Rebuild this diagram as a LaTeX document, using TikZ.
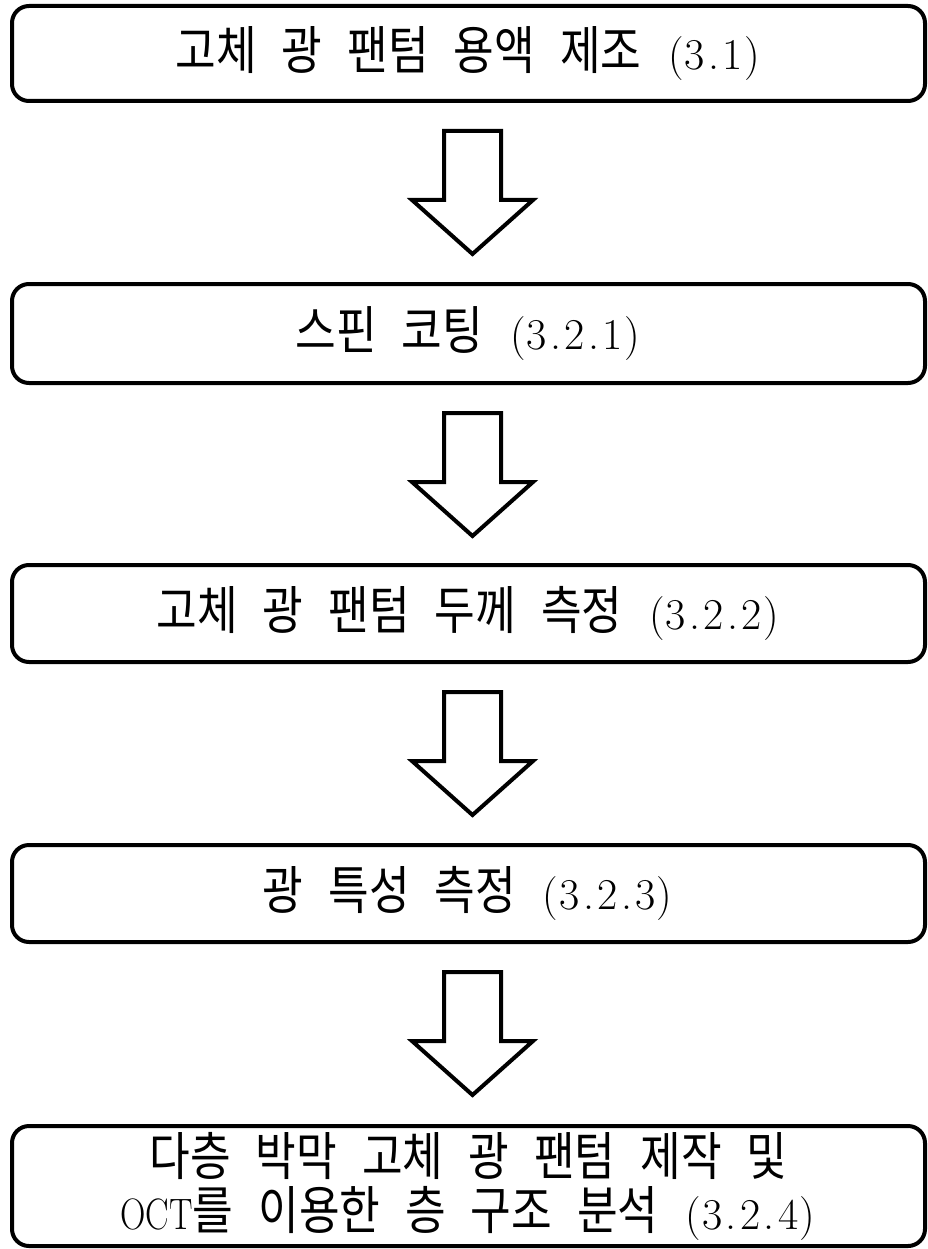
\documentclass[tikz,border=0pt]{standalone}
\usepackage{fontspec}
\usetikzlibrary{calc}
\newfontfamily\kr[FakeStretch=0.85]{Noto Sans CJK KR}
% section numbers: every character in a cell of equal width
\def\monocells#1{\monocell#1\relax}
\def\monocell#1{\ifx#1\relax\else\makebox[19pt]{#1}\expandafter\monocell\fi}
\newcommand\secno[1]{\monocells{(#1)}}
\newcommand\stagefont{\fontsize{44}{54}\selectfont\spaceskip 25pt\relax}
\tikzset{
  stage/.style={draw=black, line width=4pt, rounded corners=17pt, fill=white,
    minimum width=913pt, inner sep=0pt, align=center, font=\stagefont},
  blockarrow/.style={draw=black, line width=4pt, line join=miter, fill=white}
}
\newcommand\hg[1]{{\kr\fontsize{52}{54}\selectfont\spaceskip 25pt\relax #1}}
% hollow downward block arrow hanging below a stage
\newcommand\flowarrow[2]{%
  \draw[blockarrow] ($(#1.south)+(4,28)$) coordinate (#2)
    ++(-28.5,0) -- ++(57,0) -- ++(0,69) -- ++(32,0)
    -- ($(#2)+(0,123)$) -- ($(#2)+(-60.5,69)$) -- ++(32,0) -- cycle;}
\begin{document}
\begin{tikzpicture}[x=1pt,y=-1pt]
\useasboundingbox (0,0) rectangle (928,1249);
\fill[white] (0,0) rectangle (928,1249);

\node[stage, minimum height=95pt]  (s1) at (468.5,53.5)
  {\hg{고체 광 팬텀 용액 제조} \secno{3.1}};
\node[stage, minimum height=99pt]  (s2) at (468.5,333.5)
  {\hg{스핀 코팅} \secno{3.2.1}};
\node[stage, minimum height=97pt]  (s3) at (468.5,613.5)
  {\hg{고체 광 팬텀 두께 측정} \secno{3.2.2}};
\node[stage, minimum height=97pt]  (s4) at (468.5,893.5)
  {\hg{광 특성 측정} \secno{3.2.3}};
\node[stage, minimum height=120pt] (s5) at (468.5,1186)
  {\hg{다층 박막 고체 광 팬텀 제작 및}\\[0pt]
   \scalebox{0.8}[1]{OCT}\hg{를 이용한 층 구조 분석} \secno{3.2.4}};

\flowarrow{s1}{a1}
\flowarrow{s2}{a2}
\flowarrow{s3}{a3}
\flowarrow{s4}{a4}
\end{tikzpicture}
\end{document}
